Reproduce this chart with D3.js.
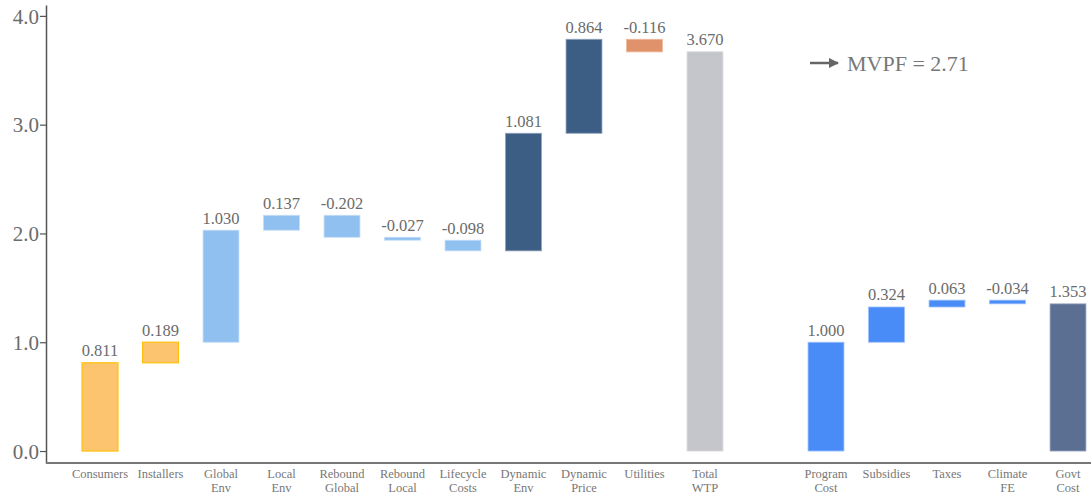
<!DOCTYPE html>
<html><head><meta charset="utf-8">
<script src="https://cdn.jsdelivr.net/npm/d3@7"></script>
<style>body{margin:0;background:#fff}svg{display:block}text{font-family:"Liberation Serif","DejaVu Serif",serif}</style>
</head><body>
<svg id="c" width="1091" height="495"></svg>
<script>
const categories = ["Consumers","Installers","Global Env","Local Env","Rebound Global","Rebound Local","Lifecycle Costs","Dynamic Env","Dynamic Price","Utilities","Total WTP","","Program Cost","Subsidies","Taxes","Climate FE","Govt Cost"];
const values = [0.811,0.189,1.030,0.137,-0.202,-0.027,-0.098,1.081,0.864,-0.116,3.670,null,1.000,0.324,0.063,-0.034,1.353];
const kinds = ["delta","delta","delta","delta","delta","delta","delta","delta","delta","delta","total","gap","delta","delta","delta","delta","total"];
const colors = ["#FDC46F","#FDC46F","#90C0F0","#90C0F0","#90C0F0","#90C0F0","#90C0F0","#3C5D84","#3C5D84","#E0936B","#C5C6CB",null,"#4A8CF7","#4A8CF7","#4A8CF7","#4A8CF7","#5B6F93"];
const strokes = ["#FFC107","#FFC107","#C5DDF7","#C5DDF7","#C5DDF7","#C5DDF7","#C5DDF7","#8FA3BC","#8FA3BC","#EDB79B","#DADBDE",null,"#9CC0FA","#9CC0FA","#9CC0FA","#9CC0FA","#9DAAC2"];
const yTicks = [0,1,2,3,4];
const mvpfLabel = "MVPF = 2.71";

const svg = d3.select("#c");
const x = d3.scaleBand().domain(d3.range(categories.length)).range([69.75,1098.25]).paddingInner(0.39).paddingOuter(0.195);
const y = d3.scaleLinear().domain([-0.11,4.1]).range([463,5]);

let run = 0;
const bars = [];
categories.forEach((c,i)=>{
  if(kinds[i]==="gap"){ run = 0; return; }
  let s,e;
  if(kinds[i]==="total"){ s=0; e=values[i]; run=values[i]; }
  else { s=run; e=run+values[i]; run=e; }
  bars.push({i,c,s,e,v:values[i]});
});

svg.append("g").selectAll("rect").data(bars).join("rect")
  .attr("x",d=>x(d.i)+0.5).attr("width",x.bandwidth()-1)
  .attr("y",d=>y(Math.max(d.s,d.e))).attr("height",d=>Math.max(1,Math.abs(y(d.s)-y(d.e))))
  .attr("fill",d=>colors[d.i]).attr("stroke",d=>strokes[d.i]).attr("stroke-width",d=>d.i<2?1.2:0.8);

svg.append("g").selectAll("text").data(bars).join("text")
  .attr("x",d=>x(d.i)+x.bandwidth()/2).attr("y",d=>y(Math.max(d.s,d.e))-6.5)
  .attr("text-anchor","middle").attr("font-size",16.5).attr("fill","#6b6b6b")
  .text(d=>d3.format(".3f")(d.v).replace("−","-"));

const ya = svg.append("g").attr("transform","translate(46,0)")
  .call(d3.axisLeft(y).tickValues(yTicks).tickFormat(d3.format(".1f")).tickSize(6).tickSizeOuter(0));
ya.attr("font-family",null);
ya.select(".domain").attr("stroke","#555").attr("stroke-width",1.5);
ya.selectAll(".tick line").attr("stroke","#555").attr("stroke-width",1.2);
ya.selectAll(".tick text").attr("font-size",21).attr("fill","#6b6b6b").attr("x",-7).attr("dy","0.34em");

const xa = svg.append("g").attr("transform","translate(0,463)")
  .call(d3.axisBottom(x).tickSize(0).tickFormat(""));
xa.attr("font-family",null);
xa.select(".domain").remove();
svg.append("line").attr("x1",46).attr("x2",1091).attr("y1",463).attr("y2",463).attr("stroke","#777").attr("stroke-width",2);
xa.selectAll(".tick").each(function(d){
  const words = categories[d].split(" ");
  const t = d3.select(this).append("text").attr("font-size",12.5).attr("fill","#777").attr("text-anchor","middle");
  words.forEach((w,k)=>t.append("tspan").attr("x",0).attr("y",15+k*13.5).text(w));
});

svg.append("defs").append("marker").attr("id","ah").attr("viewBox","0 0 10 10").attr("refX",9).attr("refY",5)
  .attr("markerWidth",4).attr("markerHeight",4).attr("orient","auto")
  .append("path").attr("d","M0,0 L10,5 L0,10 z").attr("fill","#666");
svg.append("line").attr("x1",810).attr("x2",838).attr("y1",63).attr("y2",63).attr("stroke","#666").attr("stroke-width",2.5).attr("marker-end","url(#ah)");
svg.append("text").attr("x",847).attr("y",71).attr("font-size",22).attr("fill","#777").text(mvpfLabel);
</script>
</body></html>
